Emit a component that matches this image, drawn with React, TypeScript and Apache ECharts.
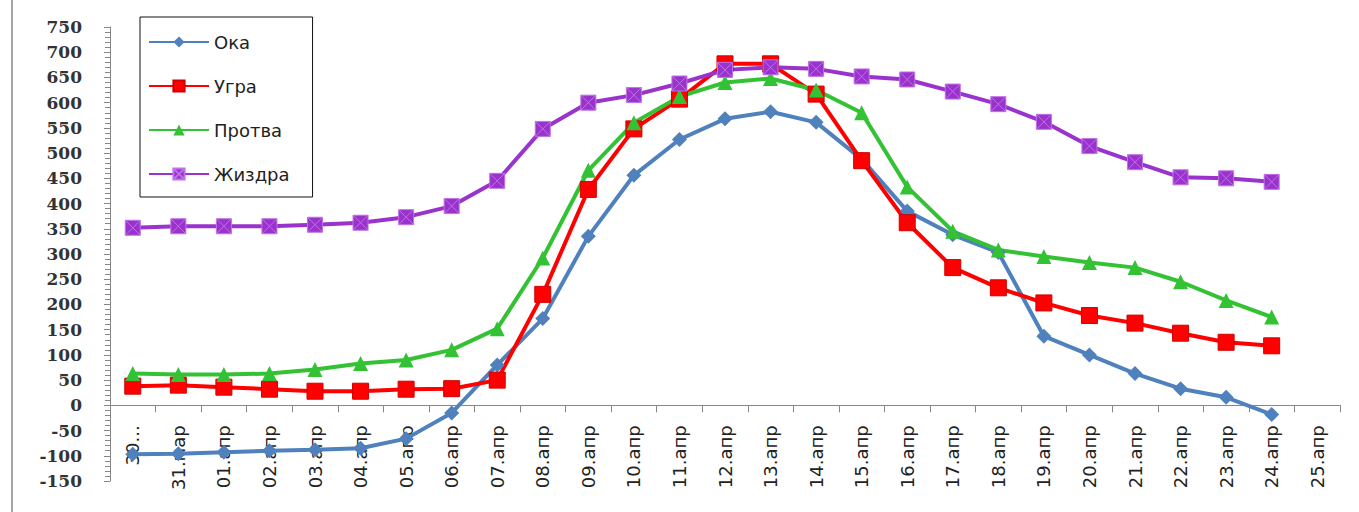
import React, { useEffect, useRef } from "react";
import * as echarts from "echarts";

const categories = [
  "30.мар", "31.мар", "01.апр", "02.апр", "03.апр", "04.апр", "05.апр", "06.апр",
  "07.апр", "08.апр", "09.апр", "10.апр", "11.апр", "12.апр", "13.апр", "14.апр",
  "15.апр", "16.апр", "17.апр", "18.апр", "19.апр", "20.апр", "21.апр", "22.апр",
  "23.апр", "24.апр", "25.апр",
];

const oka = [-97, -96, -93, -90, -88, -85, -66, -15, 80, 172, 335, 456, 527, 568, 582, 561, 488, 385, 338, 303, 137, 100, 63, 33, 16, -18];
const ugra = [38, 40, 36, 32, 28, 28, 32, 33, 50, 220, 428, 548, 607, 677, 677, 617, 485, 362, 273, 233, 203, 178, 163, 143, 125, 118];
const protva = [63, 61, 61, 63, 71, 83, 90, 110, 152, 292, 466, 560, 612, 640, 648, 625, 580, 433, 345, 308, 295, 283, 273, 245, 208, 175];
const zhizdra = [352, 355, 355, 355, 358, 362, 373, 395, 445, 548, 600, 615, 638, 665, 670, 667, 652, 646, 622, 597, 562, 514, 482, 452, 450, 443];

const yMin = -150;
const yMax = 750;
const yStep = 50;

const gridTop = 27;
const gridBottom = 31;
const chartH = 512;

export default function App() {
  const ref = useRef<HTMLDivElement>(null);
  useEffect(() => {
    if (!ref.current) return;
    const chart = echarts.init(ref.current, null, { renderer: "svg" });
    const squareX = "path://M0,0 L10,0 L10,10 L0,10 Z M0,0 L10,10 M10,0 L0,10";
    const plotH = chartH - gridTop - gridBottom;
    // shift the category axis up from the grid bottom to the value 0
    const zeroOffset = -(plotH * (0 - yMin)) / (yMax - yMin);
    const mk = (name: string, data: number[], color: string, symbol: string, size: number, extra: any = {}) => ({
      name,
      type: "line",
      data,
      symbol,
      symbolSize: size,
      lineStyle: { color, width: 4 },
      itemStyle: { color, ...extra },
      emphasis: { disabled: true },
    });
    chart.setOption({
      animation: false,
      backgroundColor: "#ffffff",
      grid: { left: 110, right: 19, top: gridTop, bottom: gridBottom, containLabel: false, outerBoundsMode: "none" },
      legend: {
        orient: "vertical",
        left: 140,
        top: 17,
        backgroundColor: "#ffffff",
        borderColor: "#111",
        borderWidth: 1,
        padding: [16, 23, 14, 8],
        itemGap: 26,
        itemWidth: 60,
        itemHeight: 14,
        textStyle: { fontFamily: "DejaVu Sans", fontSize: 18, color: "#222" },
        data: ["Ока", "Угра", "Протва", "Жиздра"],
      },
      xAxis: {
        type: "category",
        data: categories,
        boundaryGap: true,
        position: "bottom",
        offset: zeroOffset,
        axisLine: { onZero: false, lineStyle: { color: "#868686", width: 1 } },
        axisTick: { show: true, length: 7, interval: 0, lineStyle: { color: "#868686" } },
        axisLabel: {
          rotate: 90,
          interval: 0,
          margin: 20,
          fontFamily: "DejaVu Sans",
          fontSize: 18,
          color: "#222",
          formatter: (v: string, i: number) => (i === 0 ? "30..." : v),
        },
        splitLine: { show: false },
      },
      yAxis: {
        type: "value",
        min: yMin,
        max: yMax,
        interval: yStep,
        axisLine: { show: true, lineStyle: { color: "#868686", width: 1 } },
        axisTick: { show: true, length: 6, lineStyle: { color: "#868686" } },
        minorTick: { show: true, splitNumber: 5, length: 5, lineStyle: { color: "#868686" } },
        splitLine: { show: false },
        axisLabel: {
          margin: 28,
          fontFamily: "DejaVu Serif",
          fontWeight: "bold",
          fontSize: 17,
          color: "#333",
        },
      },
      graphic: [
        { type: "line", shape: { x1: 12, y1: 0, x2: 12, y2: 512 }, style: { stroke: "#a6a6a6", lineWidth: 2 } },
      ],
      series: [
        mk("Ока", oka, "#4F81BD", "diamond", 15),
        mk("Угра", ugra, "#FF0000", "rect", 16, { borderColor: "#D00000", borderWidth: 1 }),
        mk("Протва", protva, "#33C233", "triangle", 15),
        mk("Жиздра", zhizdra, "#9933CC", squareX, 15, { borderColor: "#C070E8", borderWidth: 1 }),
      ],
    });
    return () => chart.dispose();
  }, []);
  return (
    <div
      ref={ref}
      style={{ position: "absolute", left: 0, top: 0, width: 1359, height: 512 }}
    />
  );
}
